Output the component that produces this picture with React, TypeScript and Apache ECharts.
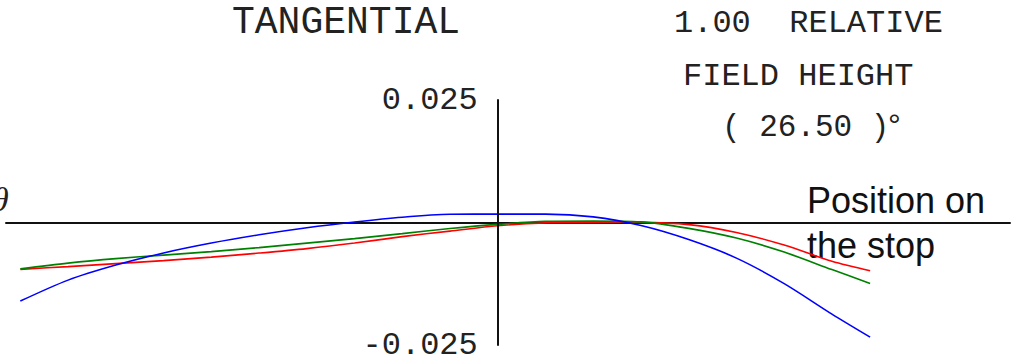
import React, { useEffect, useRef } from "react";
import * as echarts from "echarts";

// Relative pupil coordinate (horizontal axis)
const PUPIL = [-1.0, -0.9, -0.8, -0.7, -0.6, -0.5, -0.4, -0.3, -0.2, -0.1, 0.0, 0.1, 0.2, 0.3, 0.4, 0.5, 0.6, 0.7, 0.78];

// Tangential ray aberration (three wavelengths)
const RED = [-0.00957, -0.009, -0.00839, -0.00778, -0.00706, -0.00624, -0.00533, -0.0042, -0.00288, -0.00176, -0.00067, -0.00008, 0.00004, 0.00002, -0.00043, -0.00204, -0.00461, -0.00792, -0.00986];
const GREEN = [-0.00945, -0.00829, -0.00737, -0.00665, -0.00594, -0.00512, -0.0042, -0.00329, -0.00227, -0.00124, -0.00039, 0.00024, 0.00029, 0.00012, -0.0012, -0.00318, -0.00604, -0.00961, -0.01243];
const BLUE = [-0.01604, -0.01176, -0.00869, -0.00622, -0.0042, -0.00251, -0.00108, 0.0001, 0.00108, 0.00167, 0.00171, 0.00171, 0.00114, -0.00063, -0.00349, -0.00727, -0.01247, -0.01869, -0.02339];

const Y_TICKS = [-0.025, 0.025];
const X_RANGE = [-1.03, 1.073];

const TITLE = "TANGENTIAL";
const FIELD_LINES = ["1.00  RELATIVE", "FIELD HEIGHT", "( 26.50 )"];
const AXIS_NAME = "Position on\nthe stop";

const MONO = '"Liberation Mono", "DejaVu Sans Mono", monospace';
const SANS = '"Liberation Sans", Arial, sans-serif';

const GRID_LEFT = 6;
const GRID_RIGHT = 9;
const WIDTH = 1019;

export default function App() {
  const ref = useRef<HTMLDivElement>(null);

  useEffect(() => {
    if (!ref.current) return;
    const chart = echarts.init(ref.current, null, { renderer: "svg" });
    const mk = (vals: number[]) => PUPIL.map((u, i) => [u, vals[i]]);
    const lineSeries = (name: string, vals: number[], color: string) => ({
      name,
      type: "line",
      data: mk(vals),
      showSymbol: false,
      smooth: 0.3,
      lineStyle: { color, width: 1.6 },
      itemStyle: { color },
      z: 2,
    });
    // shift the y axis from the grid's left edge to x = 0
    const plotW = WIDTH - GRID_LEFT - GRID_RIGHT;
    const zeroOffset = ((0 - X_RANGE[0]) / (X_RANGE[1] - X_RANGE[0])) * plotW;
    chart.setOption({
      animation: false,
      backgroundColor: "#ffffff",
      grid: { left: GRID_LEFT, right: GRID_RIGHT, top: 100, bottom: 15, containLabel: false, outerBoundsMode: "none" },
      xAxis: {
        type: "value",
        min: X_RANGE[0],
        max: X_RANGE[1],
        axisLine: { show: true, onZero: true, lineStyle: { color: "#111", width: 2 } },
        axisTick: { show: false },
        axisLabel: { show: false },
        splitLine: { show: false },
      },
      yAxis: {
        type: "value",
        min: Y_TICKS[0],
        max: Y_TICKS[1],
        interval: Y_TICKS[1] - Y_TICKS[0],
        position: "left",
        offset: -zeroOffset,
        z: 5,
        axisLine: { show: true, onZero: false, lineStyle: { color: "#111", width: 2 } },
        axisTick: { show: false },
        splitLine: { show: false },
        axisLabel: {
          show: true,
          margin: 20,
          color: "#222",
          fontFamily: MONO,
          fontSize: 32,
          showMinLabel: true,
          showMaxLabel: true,
          formatter: (v: number) => v.toFixed(3),
        },
      },
      series: [
        lineSeries("red", RED, "#ff0000"),
        lineSeries("green", GREEN, "#008000"),
        lineSeries("blue", BLUE, "#0000ff"),
      ],
      graphic: [
        {
          type: "text",
          x: 232,
          y: 22,
          style: { text: TITLE, font: `38px ${MONO}`, fill: "#222", align: "left", verticalAlign: "middle", textAlign: "left", textVerticalAlign: "middle" },
        },
        {
          type: "text",
          x: 674,
          y: 23,
          style: { text: FIELD_LINES[0], font: `32px ${MONO}`, fill: "#222", align: "left", verticalAlign: "middle", textAlign: "left", textVerticalAlign: "middle" },
        },
        {
          type: "text",
          x: 683,
          y: 76,
          style: { text: FIELD_LINES[1], font: `32px ${MONO}`, fill: "#222", align: "left", verticalAlign: "middle", textAlign: "left", textVerticalAlign: "middle" },
        },
        {
          type: "text",
          x: 722,
          y: 127,
          style: { text: FIELD_LINES[2], font: `31px ${MONO}`, fill: "#222", align: "left", verticalAlign: "middle", textAlign: "left", textVerticalAlign: "middle" },
        },
        {
          type: "text",
          x: 888,
          y: 125,
          style: { text: "°", font: `32px ${SANS}`, fill: "#222", align: "left", verticalAlign: "middle", textAlign: "left", textVerticalAlign: "middle" },
        },
        {
          type: "text",
          x: 807,
          y: 178,
          style: { text: AXIS_NAME, font: `36px ${SANS}`, lineHeight: 45, fill: "#111", align: "left", verticalAlign: "top", textAlign: "left", textVerticalAlign: "top" },
        },
        {
          type: "text",
          x: -8,
          y: 199,
          style: { text: "θ", font: `italic 34px "Liberation Serif", serif`, fill: "#222", align: "left", verticalAlign: "middle", textAlign: "left", textVerticalAlign: "middle" },
        },
      ],
    });
    return () => chart.dispose();
  }, []);

  return (
    <div
      ref={ref}
      style={{ position: "fixed", left: 0, top: 0, width: WIDTH, height: 360, background: "#fff" }}
    />
  );
}
